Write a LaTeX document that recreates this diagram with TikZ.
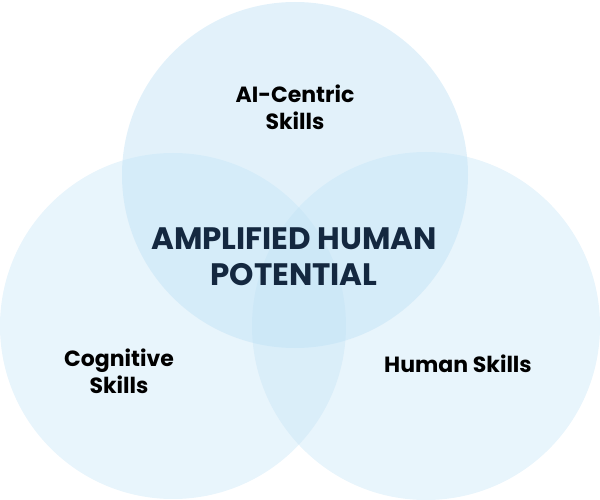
\documentclass[tikz,border=0pt]{standalone}
\usepackage{fontspec}
\setmainfont{Poppins}
\usepackage{tikz}
\usetikzlibrary{positioning}
\definecolor{vennBlue}{RGB}{190,225,245}
\definecolor{titleNavy}{RGB}{20,40,64}

\begin{document}
\begin{tikzpicture}
  [
    x=1pt, y=-1pt,
    Circ/.style={circle, fill=vennBlue, fill opacity=0.35, draw=none},
    Skill/.style={font=\fontsize{22}{27}\selectfont\bfseries, align=center, text=black},
    Title/.style={font=\fontsize{31}{36}\selectfont\bfseries, align=center, text=titleNavy}
  ]
  \useasboundingbox (0,0) rectangle (600,500);
  % Circles
  \node[Circ, minimum size=346pt, fill opacity=0.45] (top) at (295,175) {};
  \node[Circ, minimum size=346pt] (left) at (173,326) {};
  \node[Circ, minimum size=348pt] (right) at (426,326) {};

  % Labels
  \node[Skill] (ai) at (295,107) {AI-Centric\\Skills};
  \node[Skill] (cog) at (119,371) {Cognitive\\Skills};
  \node[Skill] (hum) at (458,364) {Human Skills};
  \node[Title] (amp) at (294,257) {AMPLIFIED HUMAN\\POTENTIAL};
\end{tikzpicture}
\end{document}
